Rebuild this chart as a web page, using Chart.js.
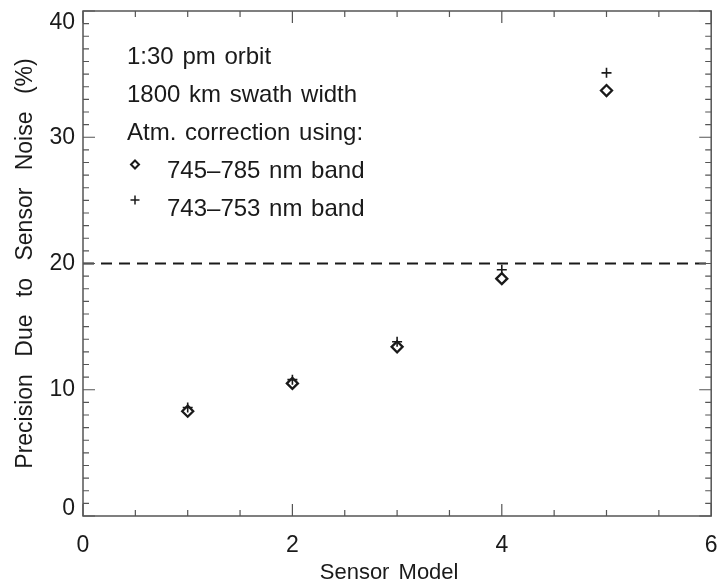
<!DOCTYPE html>
<html lang="en">
<head>
    <meta charset="UTF-8">
    <title>Precision Due to Sensor Noise</title>
    <script src="https://cdn.jsdelivr.net/npm/chart.js"></script>
    <style>
        html, body {
            margin: 0;
            padding: 0;
            background: #fff;
        }
        #wrap {
            width: 719px;
            height: 585px;
        }
    </style>
</head>
<body>
<div id="wrap"><canvas id="noiseChart" width="719" height="585"></canvas></div>

<script>
    // sensor models on the x axis
    const sensorModels = [1, 2, 3, 4, 5];
    // precision (%) with atmospheric correction from each band
    const band745to785 = [8.3, 10.5, 13.4, 18.8, 33.7];
    const band743to753 = [8.6, 10.8, 13.8, 19.5, 35.1];
    // required precision threshold (%)
    const threshold = 20;

    const xTicks = [0, 2, 4, 6];
    const yTicks = [0, 10, 20, 30, 40];

    const notes = ['1:30 pm orbit', '1800 km swath width', 'Atm. correction using:'];
    const bandNames = ['745\u2013785 nm band', '743\u2013753 nm band'];
    const xTitle = 'Sensor Model';
    const yTitle = 'Precision Due to Sensor Noise (%)';

    const FONT = '"Liberation Sans", Arial, sans-serif';
    const INK = '#1a1a1a';
    const AXIS = '#555';

    function toPoints(xs, ys) {
        return xs.map((x, i) => ({ x: x, y: ys[i] }));
    }

    // keep the end labels of the y axis inside the frame
    const endLabelsPlugin = {
        id: 'endLabels',
        beforeDraw(chart) {
            const items = chart.scales.y.getLabelItems(chart.chartArea);
            items.forEach(it => {
                if (it.label === '40') it.options.translation[1] += 12;
                if (it.label === '0') it.options.translation[1] -= 7;
            });
        }
    };

    // frame with inward ticks on all four sides
    const framePlugin = {
        id: 'frame',
        afterDatasetsDraw(chart) {
            const { ctx, chartArea: a, scales } = chart;
            const xs = scales.x, ys = scales.y;
            ctx.save();
            ctx.strokeStyle = AXIS;
            ctx.lineWidth = 1.5;
            ctx.strokeRect(a.left, a.top, a.right - a.left, a.bottom - a.top);
            ctx.lineWidth = 1.2;
            ctx.beginPath();
            for (let v = 0; v <= 6.001; v += 0.5) {
                const px = xs.getPixelForValue(v);
                const len = (Math.abs(v % 2) < 0.01) ? 12 : 6;
                ctx.moveTo(px, a.bottom); ctx.lineTo(px, a.bottom - len);
                ctx.moveTo(px, a.top); ctx.lineTo(px, a.top + len);
            }
            for (let v = 0; v <= 40; v += 1) {
                const py = ys.getPixelForValue(v);
                const len = (v % 10 === 0) ? 12 : 6;
                ctx.moveTo(a.left, py); ctx.lineTo(a.left + len, py);
                ctx.moveTo(a.right, py); ctx.lineTo(a.right - len, py);
            }
            ctx.stroke();
            ctx.restore();
        }
    };

    // axis titles, drawn by hand to get the wide word gaps
    const titlesPlugin = {
        id: 'titles',
        afterDraw(chart) {
            const { ctx, chartArea: a } = chart;
            ctx.save();
            ctx.fillStyle = INK;
            ctx.font = '22px ' + FONT;
            ctx.textAlign = 'center';
            ctx.textBaseline = 'middle';
            ctx.wordSpacing = '3px';
            ctx.fillText(xTitle, (a.left + a.right) / 2 - 8, a.bottom + 57);
            ctx.translate(26, (a.top + a.bottom) / 2);
            ctx.rotate(-Math.PI / 2);
            ctx.font = '23px ' + FONT;
            ctx.wordSpacing = '11px';
            ctx.fillText(yTitle, 0, 0);
            ctx.restore();
        }
    };

    // text block in the upper left of the plot
    const notesPlugin = {
        id: 'notes',
        afterDraw(chart) {
            const { ctx, chartArea: a } = chart;
            const left = a.left + 44;
            const lineGap = 38;
            let y = a.top + 46;
            ctx.save();
            ctx.fillStyle = INK;
            ctx.font = '24px ' + FONT;
            ctx.textBaseline = 'middle';
            ctx.wordSpacing = '2px';
            notes.forEach(t => {
                ctx.fillText(t, left, y);
                y += lineGap;
            });
            ctx.strokeStyle = INK;
            // diamond entry
            const mx = left + 8;
            ctx.lineWidth = 2;
            ctx.beginPath();
            ctx.moveTo(mx, y - 10.5);
            ctx.lineTo(mx + 4, y - 6.5);
            ctx.lineTo(mx, y - 2.5);
            ctx.lineTo(mx - 4, y - 6.5);
            ctx.closePath();
            ctx.stroke();
            ctx.fillText(bandNames[0], left + 40, y);
            y += lineGap;
            // plus entry
            ctx.lineWidth = 1.5;
            ctx.beginPath();
            ctx.moveTo(mx - 4.5, y - 9); ctx.lineTo(mx + 4.5, y - 9);
            ctx.moveTo(mx, y - 13.5); ctx.lineTo(mx, y - 4.5);
            ctx.stroke();
            ctx.fillText(bandNames[1], left + 40, y);
            ctx.restore();
        }
    };

    const ctx = document.getElementById('noiseChart').getContext('2d');
    new Chart(ctx, {
        type: 'scatter',
        data: {
            datasets: [
                {
                    label: bandNames[0],
                    data: toPoints(sensorModels, band745to785),
                    pointStyle: 'rectRot',
                    pointRadius: 5.5,
                    borderColor: INK,
                    backgroundColor: 'rgba(0,0,0,0)',
                    pointBorderWidth: 2.3
                },
                {
                    label: bandNames[1],
                    data: toPoints(sensorModels, band743to753),
                    pointStyle: 'cross',
                    pointRadius: 5,
                    borderColor: INK,
                    pointBorderWidth: 1.6
                },
                {
                    label: 'threshold',
                    data: [{ x: 0, y: threshold }, { x: 6, y: threshold }],
                    showLine: true,
                    pointRadius: 0,
                    borderColor: INK,
                    borderWidth: 2.2,
                    borderDash: [11, 7]
                }
            ]
        },
        options: {
            responsive: false,
            animation: false,
            layout: { padding: { left: 0, top: 11, right: 6, bottom: 0 } },
            plugins: {
                legend: { display: false },
                tooltip: { enabled: false }
            },
            scales: {
                x: {
                    type: 'linear',
                    min: 0,
                    max: 6,
                    afterFit(scale) {
                        scale.height = 69;
                        scale.paddingLeft = 0;
                        scale.paddingRight = 0;
                    },
                    afterBuildTicks(scale) { scale.ticks = xTicks.map(v => ({ value: v })); },
                    grid: { display: false, drawTicks: false },
                    border: { display: false },
                    ticks: {
                        padding: 16,
                        color: INK,
                        font: { family: FONT, size: 23 },
                        maxRotation: 0
                    }
                },
                y: {
                    type: 'linear',
                    min: 0,
                    max: 40,
                    afterFit(scale) {
                        scale.width = 83;
                        scale.paddingTop = 0;
                        scale.paddingBottom = 0;
                    },
                    afterBuildTicks(scale) { scale.ticks = yTicks.map(v => ({ value: v })); },
                    grid: { display: false, drawTicks: false },
                    border: { display: false },
                    ticks: {
                        padding: 8,
                        color: INK,
                        font: { family: FONT, size: 23 }
                    }
                }
            }
        },
        plugins: [endLabelsPlugin, framePlugin, titlesPlugin, notesPlugin]
    });
</script>
</body>
</html>
